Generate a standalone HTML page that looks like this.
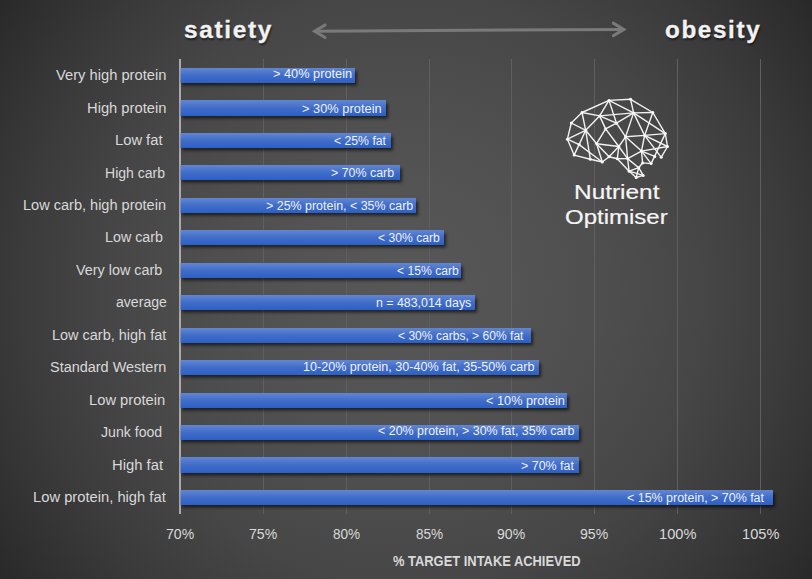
<!DOCTYPE html>
<html><head><meta charset="utf-8">
<style>
html,body{margin:0;padding:0;}
body{width:812px;height:579px;overflow:hidden;position:relative;
 background: radial-gradient(circle farthest-corner at 50% 50%, #575757 0%, #545454 20%, #4e4e4e 40%, #464646 60%, #393939 80%, #292929 100%);
 font-family:"Liberation Sans",sans-serif;}
.abs{position:absolute;left:0;top:0;}
.t{position:absolute;white-space:pre;transform-origin:0 0;}
.bar{position:absolute;left:180px;height:15px;background:linear-gradient(#6186d2,#416dc9 50%,#2c60c5);box-shadow:2px 2.5px 3px rgba(0,0,0,0.6);}
.axis{position:absolute;left:179px;top:59px;width:1px;height:455px;background:#aaaaaa;}
.axis2{position:absolute;left:180px;top:59px;width:1px;height:455px;background:rgba(170,170,170,0.55);}
.gl{position:absolute;top:59px;width:1px;height:455px;background:#5f5f5f;}
</style></head><body>
<div class="gl" style="left:262.9px"></div><div class="gl" style="left:345.7px"></div><div class="gl" style="left:428.6px"></div><div class="gl" style="left:511.4px"></div><div class="gl" style="left:594.3px"></div><div class="gl" style="left:677.2px"></div><div class="gl" style="left:760.0px"></div>
<div class="axis" style="z-index:0"></div><div class="axis2" style="z-index:0;background:#aaaaaa"></div>
<div class="bar" style="top:68px;height:15px;width:175px"></div><div class="bar" style="top:100px;height:16px;width:206px"></div><div class="bar" style="top:133px;height:15px;width:211px"></div><div class="bar" style="top:165px;height:15px;width:220px"></div><div class="bar" style="top:198px;height:15px;width:236px"></div><div class="bar" style="top:230px;height:15px;width:264px"></div><div class="bar" style="top:263px;height:15px;width:281px"></div><div class="bar" style="top:295px;height:15px;width:295px"></div><div class="bar" style="top:328px;height:15px;width:351px"></div><div class="bar" style="top:360px;height:15px;width:359px"></div><div class="bar" style="top:393px;height:15px;width:387px"></div><div class="bar" style="top:425px;height:15px;width:399px"></div><div class="bar" style="top:457px;height:16px;width:399px"></div><div class="bar" style="top:490px;height:15px;width:593px"></div>
<div class="axis2"></div>
<svg class="abs" width="812" height="579">
<g stroke="#7a7a7a" stroke-width="3" fill="none" stroke-linecap="round" stroke-linejoin="miter" stroke-miterlimit="10">
<line x1="315" y1="31.3" x2="623" y2="29.4"/>
<polyline points="325.1,25 314.6,31.3 325.1,37.5"/>
<polyline points="613.3,23.1 623.8,29.4 613.3,35.7"/>
</g>
</svg>
<svg class="abs" width="812" height="579"><g stroke="#f2f2f2" stroke-width="1.4" stroke-linecap="round"><line x1="609.0" y1="100.4" x2="582.0" y2="112.5"/><line x1="609.0" y1="100.4" x2="630.6" y2="99.3"/><line x1="609.0" y1="100.4" x2="599.6" y2="115.9"/><line x1="609.0" y1="100.4" x2="633.6" y2="112.9"/><line x1="609.0" y1="100.4" x2="616.5" y2="123.2"/><line x1="630.6" y1="99.3" x2="633.6" y2="112.9"/><line x1="630.6" y1="99.3" x2="652.8" y2="112.5"/><line x1="582.0" y1="112.5" x2="571.3" y2="123.0"/><line x1="582.0" y1="112.5" x2="599.6" y2="115.9"/><line x1="582.0" y1="112.5" x2="585.7" y2="130.3"/><line x1="571.3" y1="123.0" x2="567.4" y2="139.2"/><line x1="571.3" y1="123.0" x2="585.7" y2="130.3"/><line x1="567.4" y1="139.2" x2="585.7" y2="130.3"/><line x1="567.4" y1="139.2" x2="574.1" y2="155.1"/><line x1="567.4" y1="139.2" x2="579.1" y2="144.6"/><line x1="579.1" y1="144.6" x2="574.1" y2="155.1"/><line x1="579.1" y1="144.6" x2="585.7" y2="130.3"/><line x1="579.1" y1="144.6" x2="602.3" y2="162.0"/><line x1="585.7" y1="130.3" x2="590.3" y2="159.2"/><line x1="585.7" y1="130.3" x2="596.6" y2="143.7"/><line x1="599.6" y1="115.9" x2="585.7" y2="130.3"/><line x1="599.6" y1="115.9" x2="633.6" y2="112.9"/><line x1="599.6" y1="115.9" x2="616.5" y2="123.2"/><line x1="599.6" y1="115.9" x2="605.6" y2="128.9"/><line x1="616.5" y1="123.2" x2="633.6" y2="112.9"/><line x1="616.5" y1="123.2" x2="605.6" y2="128.9"/><line x1="616.5" y1="123.2" x2="625.6" y2="136.8"/><line x1="605.6" y1="128.9" x2="596.6" y2="143.7"/><line x1="605.6" y1="128.9" x2="618.8" y2="146.5"/><line x1="633.6" y1="112.9" x2="652.8" y2="112.5"/><line x1="633.6" y1="112.9" x2="625.6" y2="136.8"/><line x1="633.6" y1="112.9" x2="644.6" y2="135.4"/><line x1="633.6" y1="112.9" x2="665.3" y2="133.6"/><line x1="652.8" y1="112.5" x2="644.6" y2="135.4"/><line x1="652.8" y1="112.5" x2="665.3" y2="133.6"/><line x1="625.6" y1="136.8" x2="644.6" y2="135.4"/><line x1="625.6" y1="136.8" x2="618.8" y2="146.5"/><line x1="625.6" y1="136.8" x2="627.6" y2="158.6"/><line x1="625.6" y1="136.8" x2="641.5" y2="151.1"/><line x1="644.6" y1="135.4" x2="665.3" y2="133.6"/><line x1="644.6" y1="135.4" x2="641.5" y2="151.1"/><line x1="644.6" y1="135.4" x2="667.5" y2="146.5"/><line x1="644.6" y1="135.4" x2="661.2" y2="157.3"/><line x1="665.3" y1="133.6" x2="667.5" y2="146.5"/><line x1="665.3" y1="133.6" x2="651.1" y2="163.6"/><line x1="596.6" y1="143.7" x2="602.3" y2="162.0"/><line x1="596.6" y1="143.7" x2="609.1" y2="156.7"/><line x1="596.6" y1="143.7" x2="618.8" y2="146.5"/><line x1="618.8" y1="146.5" x2="609.1" y2="156.7"/><line x1="618.8" y1="146.5" x2="617.3" y2="158.8"/><line x1="618.8" y1="146.5" x2="627.6" y2="158.6"/><line x1="574.1" y1="155.1" x2="590.3" y2="159.2"/><line x1="590.3" y1="159.2" x2="602.3" y2="162.0"/><line x1="602.3" y1="162.0" x2="609.1" y2="156.7"/><line x1="609.1" y1="156.7" x2="617.3" y2="158.8"/><line x1="617.3" y1="158.8" x2="627.6" y2="158.6"/><line x1="617.3" y1="158.8" x2="629.1" y2="171.2"/><line x1="627.6" y1="158.6" x2="629.1" y2="171.2"/><line x1="627.6" y1="158.6" x2="638.7" y2="167.7"/><line x1="627.6" y1="158.6" x2="641.5" y2="151.1"/><line x1="641.5" y1="151.1" x2="667.5" y2="146.5"/><line x1="641.5" y1="151.1" x2="642.6" y2="162.9"/><line x1="641.5" y1="151.1" x2="651.1" y2="163.6"/><line x1="641.5" y1="151.1" x2="654.8" y2="156.4"/><line x1="667.5" y1="146.5" x2="661.2" y2="157.3"/><line x1="642.6" y1="162.9" x2="638.7" y2="167.7"/><line x1="642.6" y1="162.9" x2="651.1" y2="163.6"/><line x1="629.1" y1="171.2" x2="638.7" y2="167.7"/><line x1="629.1" y1="171.2" x2="636.2" y2="177.5"/><line x1="629.1" y1="171.2" x2="643.2" y2="175.4"/><line x1="638.7" y1="167.7" x2="636.2" y2="177.5"/><line x1="638.7" y1="167.7" x2="643.2" y2="175.4"/><line x1="636.2" y1="177.5" x2="643.2" y2="175.4"/></g><g fill="#f8f8f8"><circle cx="609.0" cy="100.4" r="1.5"/><circle cx="630.6" cy="99.3" r="1.5"/><circle cx="582.0" cy="112.5" r="1.5"/><circle cx="599.6" cy="115.9" r="1.5"/><circle cx="633.6" cy="112.9" r="1.5"/><circle cx="652.8" cy="112.5" r="1.5"/><circle cx="571.3" cy="123.0" r="1.5"/><circle cx="616.5" cy="123.2" r="1.5"/><circle cx="585.7" cy="130.3" r="1.5"/><circle cx="605.6" cy="128.9" r="1.5"/><circle cx="567.4" cy="139.2" r="1.5"/><circle cx="579.1" cy="144.6" r="1.5"/><circle cx="596.6" cy="143.7" r="1.5"/><circle cx="625.6" cy="136.8" r="1.5"/><circle cx="644.6" cy="135.4" r="1.5"/><circle cx="665.3" cy="133.6" r="1.5"/><circle cx="618.8" cy="146.5" r="1.5"/><circle cx="667.5" cy="146.5" r="1.5"/><circle cx="641.5" cy="151.1" r="1.5"/><circle cx="574.1" cy="155.1" r="1.5"/><circle cx="609.1" cy="156.7" r="1.5"/><circle cx="617.3" cy="158.8" r="1.5"/><circle cx="627.6" cy="158.6" r="1.5"/><circle cx="661.2" cy="157.3" r="1.5"/><circle cx="590.3" cy="159.2" r="1.5"/><circle cx="602.3" cy="162.0" r="1.5"/><circle cx="642.6" cy="162.9" r="1.5"/><circle cx="651.1" cy="163.6" r="1.5"/><circle cx="638.7" cy="167.7" r="1.5"/><circle cx="629.1" cy="171.2" r="1.5"/><circle cx="643.2" cy="175.4" r="1.5"/><circle cx="636.2" cy="177.5" r="1.5"/><circle cx="654.8" cy="156.4" r="1.5"/></g></svg>
<div class="t" style="left:56.10px;top:68px;font-size:14px;line-height:14px;color:#d9d9d9;transform:scaleX(1.0510);">Very high protein</div><div class="t" style="left:272.78px;top:68px;font-size:12.5px;line-height:12.5px;color:#eef1f8;transform:scaleX(1.0211);">&gt; 40% protein</div><div class="t" style="left:86.55px;top:101px;font-size:14px;line-height:14px;color:#d9d9d9;transform:scaleX(1.0514);">High protein</div><div class="t" style="left:302.07px;top:103px;font-size:12.5px;line-height:12.5px;color:#eef1f8;transform:scaleX(1.0276);">&gt; 30% protein</div><div class="t" style="left:114.95px;top:133px;font-size:14px;line-height:14px;color:#d9d9d9;transform:scaleX(1.0523);">Low fat</div><div class="t" style="left:333.90px;top:135px;font-size:12.5px;line-height:12.5px;color:#eef1f8;transform:scaleX(0.9774);">&lt; 25% fat</div><div class="t" style="left:105.30px;top:166px;font-size:14px;line-height:14px;color:#d9d9d9;transform:scaleX(1.0017);">High carb</div><div class="t" style="left:330.91px;top:167px;font-size:12.5px;line-height:12.5px;color:#eef1f8;transform:scaleX(0.9919);">&gt; 70% carb</div><div class="t" style="left:23.16px;top:198px;font-size:14px;line-height:14px;color:#d9d9d9;transform:scaleX(1.0382);">Low carb, high protein</div><div class="t" style="left:265.91px;top:200px;font-size:12.5px;line-height:12.5px;color:#eef1f8;transform:scaleX(0.9946);">&gt; 25% protein, &lt; 35% carb</div><div class="t" style="left:104.68px;top:230px;font-size:14px;line-height:14px;color:#d9d9d9;transform:scaleX(1.0200);">Low carb</div><div class="t" style="left:377.90px;top:232px;font-size:12.5px;line-height:12.5px;color:#eef1f8;transform:scaleX(0.9730);">&lt; 30% carb</div><div class="t" style="left:76.00px;top:263px;font-size:14px;line-height:14px;color:#d9d9d9;transform:scaleX(1.0262);">Very low carb</div><div class="t" style="left:396.80px;top:265px;font-size:12.5px;line-height:12.5px;color:#eef1f8;transform:scaleX(0.9714);">&lt; 15% carb</div><div class="t" style="left:115.70px;top:295px;font-size:14px;line-height:14px;color:#d9d9d9;transform:scaleX(1.0060);">average</div><div class="t" style="left:375.51px;top:297px;font-size:12.5px;line-height:12.5px;color:#eef1f8;transform:scaleX(0.9895);">n = 483,014 days</div><div class="t" style="left:52.27px;top:328px;font-size:14px;line-height:14px;color:#d9d9d9;transform:scaleX(1.0339);">Low carb, high fat</div><div class="t" style="left:398.20px;top:330px;font-size:12.5px;line-height:12.5px;color:#eef1f8;transform:scaleX(0.9654);">&lt; 30% carbs, &gt; 60% fat</div><div class="t" style="left:49.77px;top:360px;font-size:14px;line-height:14px;color:#d9d9d9;transform:scaleX(1.0324);">Standard Western</div><div class="t" style="left:302.79px;top:361px;font-size:12.5px;line-height:12.5px;color:#eef1f8;transform:scaleX(1.0066);">10-20% protein, 30-40% fat, 35-50% carb</div><div class="t" style="left:89.35px;top:393px;font-size:14px;line-height:14px;color:#d9d9d9;transform:scaleX(1.0521);">Low protein</div><div class="t" style="left:486.00px;top:395px;font-size:12.5px;line-height:12.5px;color:#eef1f8;transform:scaleX(1.0182);">&lt; 10% protein</div><div class="t" style="left:100.70px;top:425px;font-size:14px;line-height:14px;color:#d9d9d9;transform:scaleX(1.0083);">Junk food</div><div class="t" style="left:377.90px;top:425px;font-size:12.5px;line-height:12.5px;color:#eef1f8;transform:scaleX(0.9954);">&lt; 20% protein, &gt; 30% fat, 35% carb</div><div class="t" style="left:111.94px;top:458px;font-size:14px;line-height:14px;color:#d9d9d9;transform:scaleX(1.0574);">High fat</div><div class="t" style="left:521.20px;top:460px;font-size:12.5px;line-height:12.5px;color:#eef1f8;transform:scaleX(0.9962);">&gt; 70% fat</div><div class="t" style="left:33.35px;top:490px;font-size:14px;line-height:14px;color:#d9d9d9;transform:scaleX(1.0528);">Low protein, high fat</div><div class="t" style="left:626.60px;top:492px;font-size:12.5px;line-height:12.5px;color:#eef1f8;transform:scaleX(0.9957);">&lt; 15% protein, &gt; 70% fat</div><div class="t" style="left:165.95px;top:527px;font-size:14px;line-height:14px;color:#d9d9d9;transform:scaleX(1.0037);">70%</div><div class="t" style="left:248.81px;top:527px;font-size:14px;line-height:14px;color:#d9d9d9;transform:scaleX(1.0037);">75%</div><div class="t" style="left:332.67px;top:527px;font-size:14px;line-height:14px;color:#d9d9d9;transform:scaleX(0.9679);">80%</div><div class="t" style="left:415.53px;top:527px;font-size:14px;line-height:14px;color:#d9d9d9;transform:scaleX(0.9679);">85%</div><div class="t" style="left:497.39px;top:527px;font-size:14px;line-height:14px;color:#d9d9d9;transform:scaleX(1.0037);">90%</div><div class="t" style="left:580.25px;top:527px;font-size:14px;line-height:14px;color:#d9d9d9;transform:scaleX(1.0037);">95%</div><div class="t" style="left:658.87px;top:527px;font-size:14px;line-height:14px;color:#d9d9d9;transform:scaleX(1.0441);">100%</div><div class="t" style="left:741.73px;top:527px;font-size:14px;line-height:14px;color:#d9d9d9;transform:scaleX(1.0441);">105%</div><div class="t" style="left:393.10px;top:554px;font-size:14px;line-height:14px;color:#d9d9d9;transform:scaleX(0.9217);font-weight:700;">% TARGET INTAKE ACHIEVED</div><div class="t" style="left:183.88px;top:18px;font-size:24px;line-height:24px;color:#f2f2f2;transform:scaleX(1.0200);font-weight:700;letter-spacing:1.6px;-webkit-text-stroke:0.3px #f2f2f2;text-shadow:1px 2px 2px rgba(0,0,0,0.55);">satiety</div><div class="t" style="left:665.29px;top:18px;font-size:24px;line-height:24px;color:#f2f2f2;transform:scaleX(1.0108);font-weight:700;letter-spacing:1.6px;-webkit-text-stroke:0.3px #f2f2f2;text-shadow:1px 2px 2px rgba(0,0,0,0.55);">obesity</div><div class="t" style="left:574.28px;top:182px;font-size:20px;line-height:20px;color:#f5f5f5;transform:scaleX(1.2203);-webkit-text-stroke:0.2px #f5f5f5;">Nutrient</div><div class="t" style="left:565.40px;top:207px;font-size:20px;line-height:20px;color:#f5f5f5;transform:scaleX(1.2000);-webkit-text-stroke:0.2px #f5f5f5;">Optimiser</div>
</body></html>
